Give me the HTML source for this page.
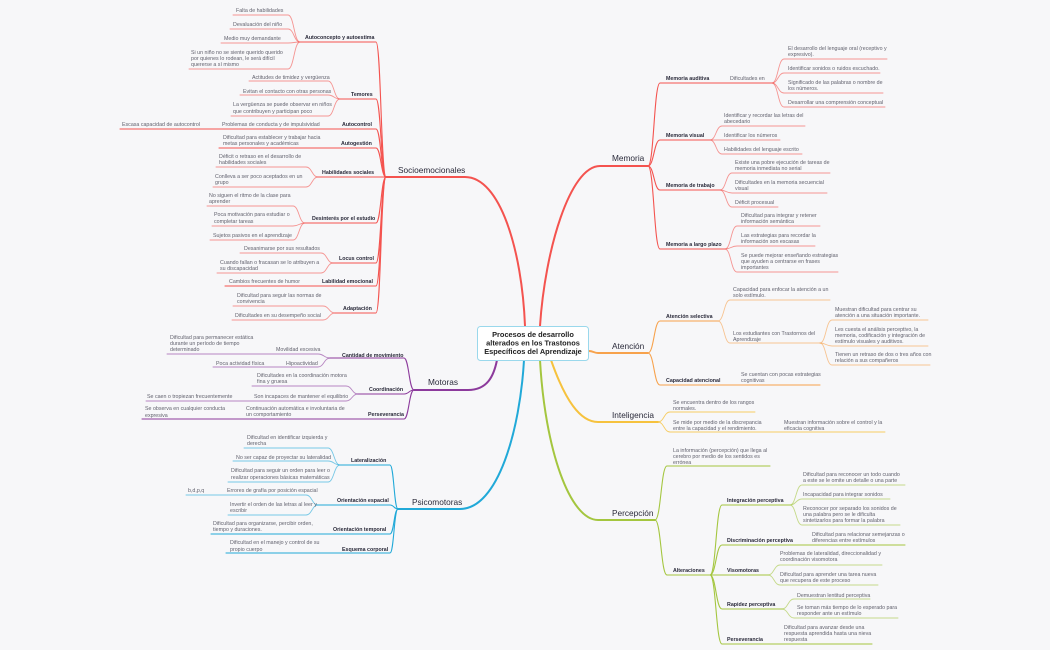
<!DOCTYPE html>
<html><head><meta charset="utf-8"><style>
html,body{margin:0;padding:0;background:#f7f7f9;}
svg{display:block}
.l{font-family:"Liberation Sans",sans-serif;font-size:5.3px;fill:#62626e}
.b{font-family:"Liberation Sans",sans-serif;font-size:5.3px;font-weight:bold;fill:#2a2a3a}
.m{font-family:"Liberation Sans",sans-serif;font-size:8.3px;fill:#2a2a3a}
.c{font-family:"Liberation Sans",sans-serif;font-size:7.4px;font-weight:bold;fill:#222}
path{fill:none;stroke-linecap:round}
</style></head><body>
<svg width="1050" height="650" viewBox="0 0 1050 650" xmlns="http://www.w3.org/2000/svg">
<rect width="1050" height="650" fill="#f7f7f9"/>
<!-- RED LEFT -->
<g stroke="#f4534f">
<path stroke-width="2" d="M386 177 H465 C500 177 522 250 525 326"/>
<g stroke-width="1.1">
<path d="M386 177 C381 177 381 42 376 42 H300"/>
<path d="M386 177 C381 177 381 99 376 99 H340"/>
<path d="M386 177 C381 177 381 129 376 129 H120"/>
<path d="M386 177 C381 177 381 148 376 148 H219"/>
<path d="M386 177 H318"/>
<path d="M386 177 C381 177 381 223 376 223 H305"/>
<path d="M386 177 C381 177 381 263 376 263 H333"/>
<path d="M386 177 C381 177 381 286 376 286 H225"/>
<path d="M386 177 C381 177 381 313 376 313 H335"/>
</g>
<g stroke-width="0.9" stroke-opacity="0.6">
<path d="M300 42 C294 42 294 15 288 15 H233"/>
<path d="M300 42 C294 42 294 29 288 29 H230"/>
<path d="M300 42 C294 42 294 43 288 43 H221"/>
<path d="M300 42 C294 42 294 69 288 69 H189"/>
<path d="M340 99 C334 99 334 81 328 81 H249"/>
<path d="M340 99 C334 99 334 95 328 95 H240"/>
<path d="M340 99 C334 99 334 116 328 116 H231"/>
<path d="M318 177 C312 177 312 167 306 167 H216"/>
<path d="M318 177 C312 177 312 187 306 187 H213"/>
<path d="M305 223 C299 223 299 206 293 206 H207"/>
<path d="M305 223 C299 223 299 226 293 226 H212"/>
<path d="M305 223 C299 223 299 240 293 240 H210"/>
<path d="M333 263 C327 263 327 253 321 253 H240"/>
<path d="M333 263 C327 263 327 273 321 273 H217"/>
<path d="M335 313 C329 313 329 306 323 306 H233"/>
<path d="M335 313 C329 313 329 320 323 320 H232"/>
</g></g>
<!-- PURPLE -->
<g stroke="#8c3a9c">
<path stroke-width="2" d="M414 390 H468 C488 390 494 375 497 360"/>
<g stroke-width="1.1">
<path d="M414 390 C409 390 409 358 404 358 H330"/>
<path d="M414 390 C409 390 409 394 404 394 H358"/>
<path d="M414 390 C409 390 409 419 404 419 H142"/>
</g>
<g stroke-width="0.9" stroke-opacity="0.6">
<path d="M330 358 C324 358 324 354 318 354 H167"/>
<path d="M330 358 C324 358 324 367 318 367 H213"/>
<path d="M358 394 C352 394 352 386 346 386 H252"/>
<path d="M358 394 C352 394 352 401 346 401 H146"/>
</g></g>
<!-- CYAN -->
<g stroke="#21a9d8">
<path stroke-width="2" d="M398 509 H460 C498 509 520 430 524 360"/>
<g stroke-width="1.1">
<path d="M398 509 C394 509 394 465 390 465 H340"/>
<path d="M398 509 C394 509 394 505 390 505 H318"/>
<path d="M398 509 C394 509 394 534 390 534 H211"/>
<path d="M398 509 C394 509 394 553 390 553 H226"/>
</g>
<g stroke-width="0.9" stroke-opacity="0.6">
<path d="M340 465 C334 465 334 448 328 448 H244"/>
<path d="M340 465 C334 465 334 461 328 461 H233"/>
<path d="M340 465 C334 465 334 482 328 482 H228"/>
<path d="M318 505 C312 505 312 495 306 495 H186"/>
<path d="M318 505 C312 505 312 515 306 515 H228"/>
</g></g>
<!-- RED RIGHT -->
<g stroke="#f4534f">
<path stroke-width="2" d="M540 326 C545 250 570 166 600 166 H648"/>
<g stroke-width="1.1">
<path d="M648 166 C654 166 654 83 660 83 H772"/>
<path d="M648 166 C654 166 654 140 660 140 H710"/>
<path d="M648 166 C654 166 654 190 660 190 H720"/>
<path d="M648 166 C654 166 654 249 660 249 H725"/>
</g>
<g stroke-width="0.9" stroke-opacity="0.6">
<path d="M772 83 C778 83 778 59 784 59 H887"/>
<path d="M772 83 C778 83 778 73 784 73 H880"/>
<path d="M772 83 C778 83 778 93 784 93 H883"/>
<path d="M772 83 C778 83 778 107 784 107 H885"/>
<path d="M710 140 C716 140 716 126 722 126 H805"/>
<path d="M710 140 H780"/>
<path d="M710 140 C716 140 716 154 722 154 H802"/>
<path d="M720 190 C726 190 726 173 732 173 H830"/>
<path d="M720 190 C726 190 726 193 732 193 H827"/>
<path d="M720 190 C726 190 726 207 732 207 H778"/>
<path d="M725 249 C731 249 731 226 737 226 H820"/>
<path d="M725 249 C731 249 731 246 737 246 H815"/>
<path d="M725 249 C731 249 731 272 737 272 H838"/>
</g></g>
<!-- ORANGE -->
<g stroke="#f7a24c">
<path stroke-width="2" d="M589 351 C593 351 594 353 598 353 H648"/>
<g stroke-width="1.1">
<path d="M648 353 C654 353 654 321 660 321 H718"/>
<path d="M648 353 C654 353 654 385 660 385 H820"/>
</g>
<g stroke-width="0.9" stroke-opacity="0.6">
<path d="M718 321 C724 321 724 300 730 300 H830"/>
<path d="M718 321 C724 321 724 343 730 343 H820"/>
<path d="M820 343 C826 343 826 320 832 320 H928"/>
<path d="M820 343 C826 343 826 346 832 346 H928"/>
<path d="M820 343 C826 343 826 365 832 365 H930"/>
</g></g>
<!-- YELLOW -->
<g stroke="#f6c23e">
<path stroke-width="2" d="M551 360 C565 400 580 422 598 422 H658"/>
<g stroke-width="0.9" stroke-opacity="0.8">
<path d="M658 422 C664 422 664 412 670 412 H755"/>
<path d="M658 422 C664 422 664 432 670 432 H885"/>
</g></g>
<!-- GREEN -->
<g stroke="#a4c63f">
<path stroke-width="2" d="M540 360 C545 450 570 520 598 520 H655"/>
<g stroke-width="1.1">
<path d="M655 520 C661 520 661 466 667 466 H770"/>
<path d="M655 520 C661 520 661 575 667 575 H710"/>
<path d="M710 575 C716 575 716 505 722 505 H790"/>
<path d="M710 575 C716 575 716 545 722 545 H905"/>
<path d="M710 575 H768"/>
<path d="M710 575 C716 575 716 609 722 609 H782"/>
<path d="M710 575 C716 575 716 644 722 644 H872"/>
</g>
<g stroke-width="0.9" stroke-opacity="0.6">
<path d="M790 505 C796 505 796 485 802 485 H905"/>
<path d="M790 505 C796 505 796 499 802 499 H890"/>
<path d="M790 505 C796 505 796 525 802 525 H900"/>
<path d="M768 575 C774 575 774 565 780 565 H882"/>
<path d="M768 575 C774 575 774 585 780 585 H878"/>
<path d="M782 609 C788 609 788 599 794 599 H870"/>
<path d="M782 609 C788 609 788 618 794 618 H898"/>
</g></g>

<!-- CENTER BOX -->
<rect x="477.5" y="326.5" width="111" height="34" rx="3" fill="#fff" stroke="#9ad8ec" stroke-width="1"/>
<text class="c" x="533" y="337" text-anchor="middle">Procesos de desarrollo</text>
<text class="c" x="533" y="345.5" text-anchor="middle">alterados en los Trastonos</text>
<text class="c" x="533" y="354" text-anchor="middle">Específicos del Aprendizaje</text>

<!-- MAIN LABELS -->
<text class="m" x="398" y="173">Socioemocionales</text>
<text class="m" x="428" y="385">Motoras</text>
<text class="m" x="412" y="505">Psicomotoras</text>
<text class="m" x="612" y="161">Memoria</text>
<text class="m" x="612" y="349">Atención</text>
<text class="m" x="612" y="418">Inteligencia</text>
<text class="m" x="612" y="516">Percepción</text>

<!-- SOCIO -->
<text class="b" x="305" y="39">Autoconcepto y autoestima</text>
<text class="l" x="236" y="12">Falta de habilidades</text>
<text class="l" x="233" y="26">Devaluación del niño</text>
<text class="l" x="224" y="40">Medio muy demandante</text>
<text class="l" x="191" y="54">Si un niño no se siente querido querido</text>
<text class="l" x="191" y="60">por quienes lo rodean, le será difícil</text>
<text class="l" x="191" y="66">quererse a sí mismo</text>
<text class="b" x="351" y="96">Temores</text>
<text class="l" x="252" y="79">Actitudes de timidez y vergüenza</text>
<text class="l" x="243" y="93">Evitan el contacto con otras personas</text>
<text class="l" x="233" y="106">La vergüenza se puede observar en niños</text>
<text class="l" x="233" y="113">que contribuyen y participan poco</text>
<text class="b" x="342" y="126">Autocontrol</text>
<text class="l" x="222" y="126">Problemas de conducta y de impulsividad</text>
<text class="l" x="122" y="126">Escasa capacidad de autocontrol</text>
<text class="b" x="341" y="145">Autogestión</text>
<text class="l" x="223" y="139">Dificultad para establecer y trabajar hacia</text>
<text class="l" x="223" y="145">metas personales y académicas</text>
<text class="b" x="322" y="174">Habilidades sociales</text>
<text class="l" x="219" y="158">Déficit o retraso en el desarrollo de</text>
<text class="l" x="219" y="164">habilidades sociales</text>
<text class="l" x="215" y="178">Conlleva a ser poco aceptados en un</text>
<text class="l" x="215" y="184">grupo</text>
<text class="b" x="312" y="220">Desinterés por el estudio</text>
<text class="l" x="209" y="197">No siguen el ritmo de la clase para</text>
<text class="l" x="209" y="203">aprender</text>
<text class="l" x="214" y="216">Poca motivación para estudiar o</text>
<text class="l" x="214" y="223">completar tareas</text>
<text class="l" x="213" y="237">Sujetos pasivos en el aprendizaje</text>
<text class="b" x="339" y="260">Locus control</text>
<text class="l" x="244" y="250">Desanimarse por sus resultados</text>
<text class="l" x="220" y="264">Cuando fallan o fracasan se lo atribuyen a</text>
<text class="l" x="220" y="270">su discapacidad</text>
<text class="b" x="322" y="283">Labilidad emocional</text>
<text class="l" x="229" y="283">Cambios frecuentes de humor</text>
<text class="b" x="343" y="310">Adaptación</text>
<text class="l" x="237" y="297">Dificultad para seguir las normas de</text>
<text class="l" x="237" y="303">convivencia</text>
<text class="l" x="235" y="317">Dificultades en su desempeño social</text>

<!-- MOTORAS -->
<text class="b" x="342" y="357">Cantidad de movimiento</text>
<text class="l" x="276" y="351">Movilidad excesiva</text>
<text class="l" x="170" y="339">Dificultad para permanecer estática</text>
<text class="l" x="170" y="345">durante un período de tiempo</text>
<text class="l" x="170" y="351">determinado</text>
<text class="l" x="286" y="365">Hipoactividad</text>
<text class="l" x="216" y="365">Poca actividad física</text>
<text class="b" x="369" y="391">Coordinación</text>
<text class="l" x="257" y="377">Dificultades en la coordinación motora</text>
<text class="l" x="257" y="383">fina y gruesa</text>
<text class="l" x="254" y="398">Son incapaces de mantener el equilibrio</text>
<text class="l" x="147" y="398">Se caen o tropiezan frecuentemente</text>
<text class="b" x="368" y="416">Perseverancia</text>
<text class="l" x="246" y="410">Continuación automática e involuntaria de</text>
<text class="l" x="246" y="416">un comportamiento</text>
<text class="l" x="145" y="410">Se observa en cualquier conducta</text>
<text class="l" x="145" y="417">expresiva</text>

<!-- PSICOMOTORAS -->
<text class="b" x="351" y="462">Lateralización</text>
<text class="l" x="247" y="439">Dificultad en identificar izquierda y</text>
<text class="l" x="247" y="445">derecha</text>
<text class="l" x="236" y="459">No ser capaz de proyectar su lateralidad</text>
<text class="l" x="231" y="472">Dificultad para seguir un orden para leer o</text>
<text class="l" x="231" y="479">realizar operaciones básicas matemáticas</text>
<text class="b" x="337" y="502">Orientación espacial</text>
<text class="l" x="227" y="492">Errores de grafía por posición espacial</text>
<text class="l" x="188" y="492">b,d,p,q</text>
<text class="l" x="230" y="506">Invertir el orden de las letras al leer y</text>
<text class="l" x="230" y="512">escribir</text>
<text class="b" x="333" y="531">Orientación temporal</text>
<text class="l" x="213" y="525">Dificultad para organizarse, percibir orden,</text>
<text class="l" x="213" y="531">tiempo y duraciones.</text>
<text class="b" x="342" y="551">Esquema corporal</text>
<text class="l" x="230" y="544">Dificultad en el manejo y control de su</text>
<text class="l" x="230" y="551">propio cuerpo</text>

<!-- MEMORIA -->
<text class="b" x="666" y="80">Memoria auditiva</text>
<text class="l" x="730" y="80">Dificultades en</text>
<text class="l" x="788" y="50">El desarrollo del lenguaje oral (receptivo y</text>
<text class="l" x="788" y="56">expresivo).</text>
<text class="l" x="788" y="70">Identificar sonidos o ruidos escuchado.</text>
<text class="l" x="788" y="84">Significado de las palabras o nombre de</text>
<text class="l" x="788" y="90">los números.</text>
<text class="l" x="788" y="104">Desarrollar una comprensión conceptual</text>
<text class="b" x="666" y="137">Memoria visual</text>
<text class="l" x="724" y="117">Identificar y recordar las letras del</text>
<text class="l" x="724" y="123">abecedario</text>
<text class="l" x="724" y="137">Identificar los números</text>
<text class="l" x="724" y="151">Habilidades del lenguaje escrito</text>
<text class="b" x="666" y="187">Memoria de trabajo</text>
<text class="l" x="735" y="164">Existe una pobre ejecución de tareas de</text>
<text class="l" x="735" y="170">memoria inmediata no serial</text>
<text class="l" x="735" y="184">Dificultades en la memoria secuencial</text>
<text class="l" x="735" y="190">visual</text>
<text class="l" x="735" y="204">Déficit procesual</text>
<text class="b" x="666" y="246">Memoria a largo plazo</text>
<text class="l" x="741" y="217">Dificultad para integrar y retener</text>
<text class="l" x="741" y="223">información semántica</text>
<text class="l" x="741" y="237">Las estrategias para recordar la</text>
<text class="l" x="741" y="243">información son escasas</text>
<text class="l" x="741" y="257">Se puede mejorar enseñando estrategias</text>
<text class="l" x="741" y="263">que ayuden a centrarse en frases</text>
<text class="l" x="741" y="269">importantes</text>

<!-- ATENCION -->
<text class="b" x="666" y="318">Atención selectiva</text>
<text class="l" x="733" y="291">Capacidad para enfocar la atención a un</text>
<text class="l" x="733" y="297">solo estímulo.</text>
<text class="l" x="733" y="335">Los estudiantes con Trastornos del</text>
<text class="l" x="733" y="341">Aprendizaje</text>
<text class="l" x="835" y="311">Muestran dificultad para centrar su</text>
<text class="l" x="835" y="317">atención a una situación importante.</text>
<text class="l" x="835" y="331">Les cuesta el análisis perceptivo, la</text>
<text class="l" x="835" y="337">memoria, codificación y integración de</text>
<text class="l" x="835" y="343">estímulo visuales y auditivos.</text>
<text class="l" x="835" y="356">Tienen un retraso de dos o tres años con</text>
<text class="l" x="835" y="362">relación a sus compañeros</text>
<text class="b" x="666" y="382">Capacidad atencional</text>
<text class="l" x="741" y="376">Se cuentan con pocas estrategias</text>
<text class="l" x="741" y="382">cognitivas</text>

<!-- INTELIGENCIA -->
<text class="l" x="673" y="404">Se encuentra dentro de los rangos</text>
<text class="l" x="673" y="410">normales.</text>
<text class="l" x="673" y="424">Se mide por medio de la discrepancia</text>
<text class="l" x="673" y="430">entre la capacidad y el rendimiento.</text>
<text class="l" x="784" y="424">Muestran información sobre el control y la</text>
<text class="l" x="784" y="430">eficacia cognitiva</text>

<!-- PERCEPCION -->
<text class="l" x="673" y="452">La información (percepción) que llega al</text>
<text class="l" x="673" y="458">cerebro por medio de los sentidos es</text>
<text class="l" x="673" y="464">errónea</text>
<text class="b" x="673" y="572">Alteraciones</text>
<text class="b" x="727" y="502">Integración perceptiva</text>
<text class="l" x="803" y="476">Dificultad para reconocer un todo cuando</text>
<text class="l" x="803" y="482">a este se le omite un detalle o una parte</text>
<text class="l" x="803" y="496">Incapacidad para integrar sonidos</text>
<text class="l" x="803" y="510">Reconocer por separado los sonidos de</text>
<text class="l" x="803" y="516">una palabra pero se le dificulta</text>
<text class="l" x="803" y="522">sintetizarlos para formar la palabra</text>
<text class="b" x="727" y="542">Discriminación perceptiva</text>
<text class="l" x="812" y="536">Dificultad para relacionar semejanzas o</text>
<text class="l" x="812" y="542">diferencias entre estímulos</text>
<text class="b" x="727" y="572">Visomotoras</text>
<text class="l" x="780" y="555">Problemas de lateralidad, direccionalidad y</text>
<text class="l" x="780" y="561">coordinación visomotora</text>
<text class="l" x="780" y="576">Dificultad para aprender una tarea nueva</text>
<text class="l" x="780" y="582">que recupera de este proceso</text>
<text class="b" x="727" y="606">Rapidez perceptiva</text>
<text class="l" x="797" y="597">Demuestran lentitud perceptiva</text>
<text class="l" x="797" y="609">Se toman más tiempo de lo esperado para</text>
<text class="l" x="797" y="615">responder ante un estímulo</text>
<text class="b" x="727" y="641">Perseverancia</text>
<text class="l" x="784" y="629">Dificultad para avanzar desde una</text>
<text class="l" x="784" y="635">respuesta aprendida hasta una nieva</text>
<text class="l" x="784" y="641">respuesta</text>
</svg>
</body></html>
